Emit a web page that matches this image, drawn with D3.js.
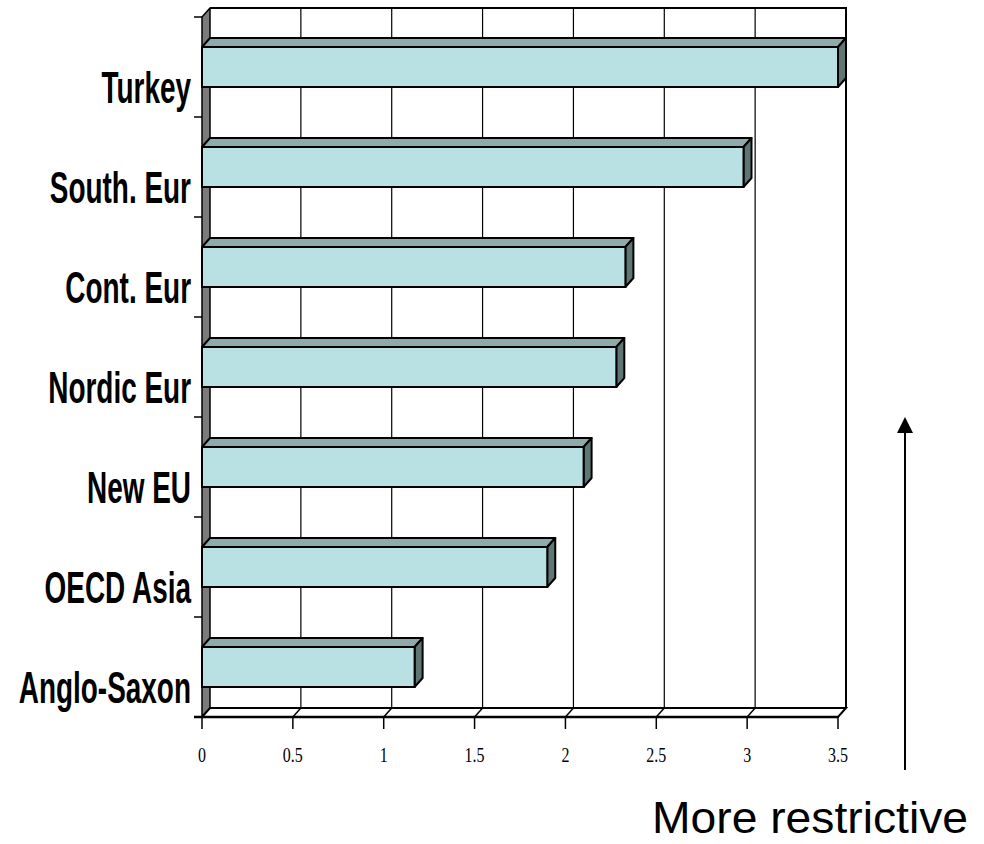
<!DOCTYPE html>
<html>
<head>
<meta charset="utf-8">
<script src="https://cdn.jsdelivr.net/npm/d3@7"></script>
<style>
  html, body { margin: 0; padding: 0; background: #fff; }
  svg { display: block; }
</style>
</head>
<body>
<svg id="chart" width="984" height="844"></svg>
<script>
// Product-market regulation index by country group
const categories = ["Turkey", "South. Eur", "Cont. Eur", "Nordic Eur", "New EU", "OECD Asia", "Anglo-Saxon"];
const values = [3.5, 2.98, 2.33, 2.28, 2.10, 1.90, 1.17];
const tickValues = [0, 0.5, 1, 1.5, 2, 2.5, 3, 3.5];
const tickLabels = ["0", "0.5", "1", "1.5", "2", "2.5", "3", "3.5"];
const noteText = "More restrictive";

const svg = d3.select("#chart");

// Front plane of the 3D box
const plotLeft = 202, plotRight = 838, plotTop = 17, plotBottom = 717;
// Depth offset of the back plane
const dx = 8, dy = 9;

const x = d3.scaleLinear().domain([0, 3.5]).range([plotLeft, plotRight]);
const y = d3.scaleBand().domain(categories).range([plotTop, plotBottom])
  .paddingInner(0.6).paddingOuter(0.3);

const colFront = "#b9e0e3", colTop = "#8eaaab", colSide = "#5f7675", colWall = "#7b7b7b";

const g = svg.append("g");

// Back wall
g.append("rect")
  .attr("x", plotLeft + dx).attr("y", plotTop - dy)
  .attr("width", plotRight - plotLeft).attr("height", plotBottom - plotTop)
  .attr("fill", "#fff");

// Vertical gridlines on the back wall
g.selectAll("line.grid").data(tickValues.slice(1, -1)).join("line")
  .attr("class", "grid")
  .attr("x1", d => x(d) + dx).attr("x2", d => x(d) + dx)
  .attr("y1", plotTop - dy).attr("y2", plotBottom - dy)
  .attr("stroke", "#000").attr("stroke-width", 1.2);

// Back wall outline (top and right)
g.append("path")
  .attr("d", `M${plotLeft + dx},${plotTop - dy}H${plotRight + dx}V${plotBottom - dy}`)
  .attr("fill", "none").attr("stroke", "#000").attr("stroke-width", 2);

// Left side wall
g.append("path")
  .attr("d", `M${plotLeft},${plotTop}L${plotLeft + dx},${plotTop - dy}L${plotLeft + dx},${plotBottom - dy}L${plotLeft},${plotBottom}Z`)
  .attr("fill", colWall).attr("stroke", "#000").attr("stroke-width", 1.5).attr("stroke-linejoin", "round");

// Floor
g.append("path")
  .attr("d", `M${plotLeft},${plotBottom}L${plotLeft + dx},${plotBottom - dy}H${plotRight + dx}L${plotRight},${plotBottom}Z`)
  .attr("fill", "#fff").attr("stroke", "#000").attr("stroke-width", 2);
g.selectAll("line.floor").data(tickValues.slice(1, -1)).join("line")
  .attr("class", "floor")
  .attr("x1", d => x(d)).attr("y1", plotBottom)
  .attr("x2", d => x(d) + dx).attr("y2", plotBottom - dy)
  .attr("stroke", "#000").attr("stroke-width", 1.5);

// Front baseline extends slightly left of the wall
g.append("line")
  .attr("x1", plotLeft - 8).attr("x2", plotRight).attr("y1", plotBottom).attr("y2", plotBottom)
  .attr("stroke", "#000").attr("stroke-width", 2.5);

// X tick marks and labels
g.selectAll("line.xtick").data(tickValues).join("line")
  .attr("class", "xtick")
  .attr("x1", d => x(d)).attr("x2", d => x(d))
  .attr("y1", plotBottom).attr("y2", plotBottom + 12)
  .attr("stroke", "#000").attr("stroke-width", 1.5);

g.selectAll("text.xlab").data(tickValues).join("text")
  .attr("class", "xlab")
  .attr("transform", d => `translate(${x(d)},${plotBottom + 45}) scale(0.8,1)`)
  .attr("text-anchor", "middle")
  .attr("font-family", "'Liberation Serif', 'Times New Roman', serif")
  .attr("font-size", 20)
  .text((d, i) => tickLabels[i]);

// Category tick marks at band boundaries
const boundaries = d3.range(categories.length + 1).map(i => plotTop + i * y.step());
g.selectAll("line.ytick").data(boundaries.slice(0, -1)).join("line")
  .attr("class", "ytick")
  .attr("x1", plotLeft - 8).attr("x2", plotLeft)
  .attr("y1", d => d).attr("y2", d => d)
  .attr("stroke", "#000").attr("stroke-width", 1.5);

// Bars (top, side, front)
const bars = g.selectAll("g.bar").data(categories).join("g").attr("class", "bar");
bars.each(function (c, i) {
  const b = d3.select(this);
  const x0 = x(0), x1 = x(values[i]);
  const y0 = y(c), y1 = y(c) + y.bandwidth();
  b.append("path")
    .attr("d", `M${x0},${y0}L${x0 + dx},${y0 - dy}H${x1 + dx}L${x1},${y0}Z`)
    .attr("fill", colTop).attr("stroke", "#000").attr("stroke-width", 2).attr("stroke-linejoin", "round");
  b.append("path")
    .attr("d", `M${x1},${y0}L${x1 + dx},${y0 - dy}V${y1 - dy}L${x1},${y1}Z`)
    .attr("fill", colSide).attr("stroke", "#000").attr("stroke-width", 2).attr("stroke-linejoin", "round");
  b.append("rect")
    .attr("x", x0).attr("y", y0)
    .attr("width", x1 - x0).attr("height", y1 - y0)
    .attr("fill", colFront).attr("stroke", "#000").attr("stroke-width", 2);
});

// Category labels (bold, condensed)
g.selectAll("text.ylab").data(categories).join("text")
  .attr("class", "ylab")
  .attr("transform", c => `translate(191,${y(c) + y.bandwidth() / 2 + 36}) scale(0.635,1)`)
  .attr("text-anchor", "end")
  .attr("font-family", "'Liberation Sans', Arial, sans-serif")
  .attr("font-weight", "bold")
  .attr("font-size", 44)
  .text(c => c);

// Upward arrow with caption
const ax = 905;
g.append("line")
  .attr("x1", ax).attr("x2", ax).attr("y1", 770).attr("y2", 430)
  .attr("stroke", "#000").attr("stroke-width", 2);
g.append("path")
  .attr("d", `M${ax},417L${ax + 8},433H${ax - 8}Z`)
  .attr("fill", "#000");
g.append("text")
  .attr("x", 652).attr("y", 833)
  .attr("font-family", "'Liberation Sans', Arial, sans-serif")
  .attr("font-size", 44)
  .attr("textLength", 316)
  .attr("lengthAdjust", "spacingAndGlyphs")
  .text(noteText);
</script>
</body>
</html>
